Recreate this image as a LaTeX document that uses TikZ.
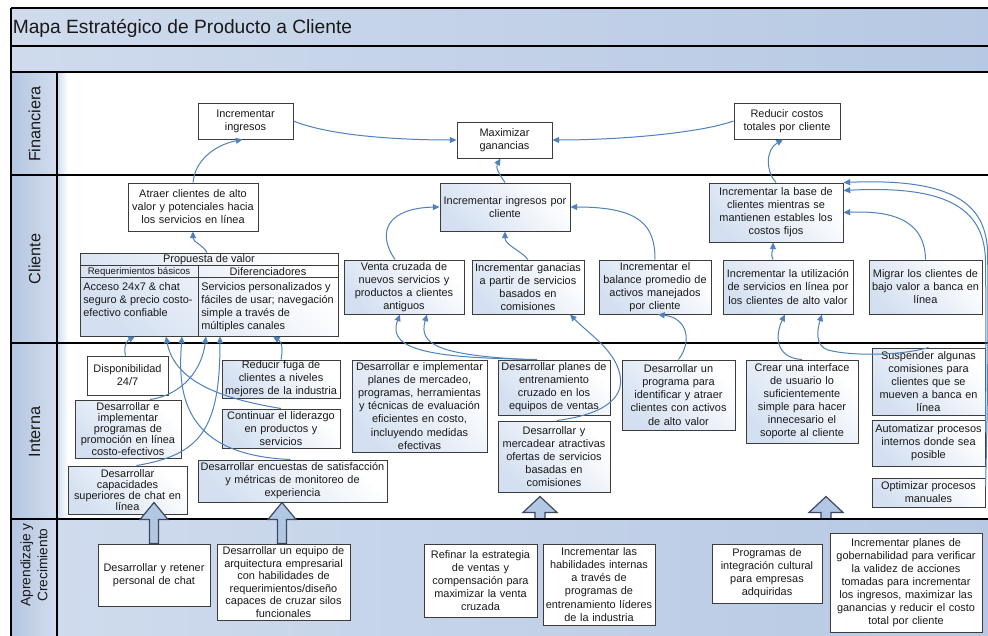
\documentclass[tikz,border=0pt]{standalone}
\usepackage{fontspec}
\setmainfont{Liberation Sans}
\usetikzlibrary{arrows.meta,calc}

\definecolor{bandlight}{RGB}{207,219,237}
\definecolor{banddark}{RGB}{182,200,227}
\definecolor{labellight}{RGB}{210,221,238}
\definecolor{labeldark}{RGB}{180,198,225}
\definecolor{boxtint}{RGB}{212,224,241}
\definecolor{boxline}{RGB}{60,60,60}
\definecolor{linkblue}{RGB}{79,129,189}
\definecolor{arrowfill}{RGB}{178,199,228}
\definecolor{arrowline}{RGB}{60,72,96}
\definecolor{inktext}{RGB}{25,25,25}

\tikzset{
  box/.style={draw=boxline, line width=0.75pt, fill=white, align=center,
    inner xsep=1pt, inner ysep=0.5pt, text=inktext,
    font=\fontsize{8.2}{9.8}\selectfont},
  gbox/.style={box, left color=boxtint, right color=white, shading angle=135},
  tight/.style={font=\fontsize{8.2}{8.3}\selectfont},
  arqfont/.style={font=\fontsize{8.2}{9.4}\selectfont},
  link/.style={draw=linkblue, line width=0.75pt, -{Triangle[length=5pt,width=4.5pt]}},
  laneline/.style={draw=black, line width=2pt},
  gridline/.style={draw=boxline, line width=0.75pt},
  lanelabel/.style={rotate=90, inner sep=0pt, text=inktext,
    font=\fontsize{12.2}{13}\selectfont},
  celltext/.style={inner sep=0pt, text=inktext, font=\fontsize{8.2}{9.8}\selectfont},
  blockarrow/.style={draw=arrowline, fill=arrowfill, line width=0.9pt},
  offx/.style={shift={(#1,0)}},
}

% box given by its corners in pixel units: [style]{name}{x1}{y1}{x2}{y2}{text}
\newcommand\stratbox[7][box]{%
  \pgfmathsetmacro\sbW{(#5-#3)*0.75}%
  \pgfmathsetmacro\sbH{(#6-#4)*0.75}%
  \pgfmathsetmacro\sbT{(#5-#3)*0.75-2}%
  \node[#1, minimum width=\sbW pt, minimum height=\sbH pt, text width=\sbT pt]
    (#2) at ({(#3+#5)/2},{(#4+#6)/2}) {#7};%
}

\begin{document}
\begin{tikzpicture}[x=0.75pt,y=-0.75pt]
\useasboundingbox (0,0) rectangle (988,635);
\clip (0,0) rectangle (988,635);
\fill[white] (0,0) rectangle (988,635);

% ---------- frame: title bands, lanes, label column ----------
\shade[left color=bandlight, right color=banddark] (11,8) rectangle (1000,72);
\shade[left color=boxtint, right color=white] (58,73) rectangle (68,518);
\shade[left color=bandlight, right color=banddark] (57,519) rectangle (1000,640);
\shade[left color=labeldark, right color=labellight] (11,72) rectangle (57,640);

\draw[laneline] (11,8) -- (1000,8);
\draw[laneline] (11,46) -- (1000,46);
\draw[laneline] (11,72) -- (1000,72);
\draw[laneline] (11,175) -- (1000,175);
\draw[laneline] (11,343) -- (1000,343);
\draw[laneline] (11,519) -- (1000,519);
\draw[laneline] (11,8) -- (11,640);
\draw[laneline] (57,72) -- (57,640);

\node[anchor=west, inner sep=0pt, text=inktext, font=\fontsize{14.4}{16}\selectfont]
  (title) at (12.5,28) {Mapa Estratégico de Producto a Cliente};

\node[lanelabel] (lblFin) at (34.5,124) {Financiera};
\node[lanelabel] (lblCli) at (34.5,259) {Cliente};
\node[lanelabel] (lblInt) at (34.5,432) {Interna};
\node[lanelabel, align=center, font=\fontsize{10.3}{12.8}\selectfont]
  (lblApr) at (34,565) {Aprendizaje y\\Crecimiento};

% ---------- Financiera ----------
\stratbox{ing}{198}{103}{293}{139}{Incrementar\\ingresos}
\stratbox{maxg}{457}{122}{552}{158}{Maximizar\\ganancias}
\stratbox{redc}{734}{103}{840}{139}{Reducir costos\\totales por cliente}

% ---------- Cliente ----------
\stratbox{atraer}{128}{183}{258}{231}{Atraer clientes de alto\\valor y potenciales hacia\\los servicios en línea}
\stratbox[gbox]{iipc}{440}{183}{570}{231}{Incrementar ingresos por\\cliente}
\stratbox[gbox]{ibase}{709}{183}{843}{242}{Incrementar la base de\\clientes mientras se\\mantienen estables los\\costos fijos}
\stratbox[gbox]{venta}{344}{260}{464}{314}{Venta cruzada de\\nuevos servicios y\\productos a clientes\\antiguos}
\stratbox[gbox]{ganac}{472}{260}{584}{314}{Incrementar ganacias\\a partir de servicios\\basados en\\comisiones}
\stratbox[gbox]{balance}{599}{260}{711}{314}{Incrementar el\\balance promedio de\\activos manejados\\por cliente}
\stratbox[gbox]{util}{723}{260}{853}{314}{Incrementar la utilización\\de servicios en línea por\\los clientes de alto valor}
\stratbox[gbox]{migrar}{869}{260}{982}{314}{Migrar los clientes de\\bajo valor a banca en\\línea}

% value proposition table
\stratbox[gbox]{pv}{80}{253}{338}{336}{}
\draw[gridline] (80,265) -- (338,265) (80,277) -- (338,277) (198,265) -- (198,336);
\node[celltext] (pvHead) at (209,259.5) {Propuesta de valor};
\node[celltext, font=\fontsize{7.2}{8}\selectfont] (pvReq) at (139,271.5) {Requerimientos básicos};
\node[celltext] (pvDif) at (268,271.5) {Diferenciadores};
\node[celltext, anchor=north west, align=left] (pvReqBody) at (83,282)
  {Acceso 24x7 \& chat\\seguro \& precio costo-\\efectivo confiable};
\node[celltext, anchor=north west, align=left] (pvDifBody) at (201,282)
  {Servicios personalizados y\\fáciles de usar; navegación\\simple a través de\\múltiples canales};

% ---------- Interna ----------
\stratbox{disp}{87}{356}{168}{395}{Disponibilidad\\24/7}
\stratbox[gbox,tight]{promo}{75}{400}{181}{458}{Desarrollar e\\implementar\\programas de\\promoción en línea\\costo-efectivos}
\stratbox[gbox,tight]{chat}{68}{466}{187}{514}{Desarrollar\\capacidades\\superiores de chat en\\línea}
\stratbox[gbox]{fuga}{222}{360}{340}{398}{Reducir fuga de\\clientes a niveles\\mejores de la industria}
\stratbox[gbox]{lider}{222}{409}{340}{448}{Continuar el liderazgo\\en productos y\\servicios}
\stratbox[gbox]{encuestas}{198}{460}{387}{502}{Desarrollar encuestas de satisfacción\\y métricas de monitoreo de\\experiencia}
\stratbox[gbox]{mercadeo}{352}{360}{487}{452}{Desarrollar e implementar\\planes de mercadeo,\\programas, herramientas\\y técnicas de evaluación\\eficientes en costo,\\incluyendo medidas\\efectivas}
\stratbox[gbox]{entren}{498}{360}{610}{415}{Desarrollar planes de\\entrenamiento\\cruzado en los\\equipos de ventas}
\stratbox[gbox]{ofertas}{498}{421}{610}{492}{Desarrollar y\\mercadear atractivas\\ofertas de servicios\\basadas en\\comisiones}
\stratbox[gbox]{programa}{622}{360}{735}{430}{Desarrollar un\\programa para\\identificar y atraer\\clientes con activos\\de alto valor}
\stratbox[gbox]{interfaz}{746}{360}{858}{443}{Crear una interface\\de usuario lo\\suficientemente\\simple para hacer\\innecesario el\\soporte al cliente}
\stratbox[gbox]{suspender}{872}{348}{985}{415}{Suspender algunas\\comisiones para\\clientes que se\\mueven a banca en\\línea}
\stratbox[gbox]{automat}{872}{420}{985}{466}{Automatizar procesos\\internos donde sea\\posible}
\stratbox[gbox]{optim}{872}{478}{985}{507}{Optimizar procesos\\manuales}

% ---------- Aprendizaje y Crecimiento ----------
\stratbox{retener}{98}{544}{210}{606}{Desarrollar y retener\\personal de chat}
\stratbox[box,arqfont]{arq}{217}{544}{350}{620}{Desarrollar un equipo de\\arquitectura empresarial\\con habilidades de\\requerimientos/diseño\\capaces de cruzar silos\\funcionales}
\stratbox{refinar}{424}{544}{537}{617}{Refinar la estrategia\\de ventas y\\compensación para\\maximizar la venta\\cruzada}
\stratbox{habil}{543}{544}{655}{625}{Incrementar las\\habilidades internas\\a través de\\programas de\\entrenamiento líderes\\de la industria}
\stratbox{cultural}{712}{544}{822}{603}{Programas de\\integración cultural\\para empresas\\adquiridas}
\stratbox{gobern}{830}{533}{982}{632}{Incrementar planes de\\gobernabilidad para verificar\\la validez de acciones\\tomadas para incrementar\\los ingresos, maximizar las\\ganancias y reducir el costo\\total por cliente}

% ---------- cause-effect links: Financiera ----------
\draw[link] (ing.east) .. controls (330,136) and (400,140) .. (maxg.west);
\draw[link] (redc.west) .. controls (700,133) and (620,140) .. (maxg.east);
\draw[link] (atraer.north) .. controls (195,160) and (215,145) .. ([offx=-3]ing.south);
\draw[link] (iipc.north) .. controls (500,175) and (495,168) .. ([offx=-4]maxg.south);
\draw[link] (ibase.north) .. controls (766,172) and (765,150) .. ([offx=-4]redc.south);

% ---------- links: Cliente ----------
\draw[link] ([offx=-2]pv.north) .. controls (203,245) and (193,242) .. (atraer.south);
\draw[link] ([offx=-9]venta.north) .. controls (375,230) and (390,208) .. (iipc.west);
\draw[link] (ganac.north) .. controls (520,250) and (505,245) .. (iipc.south);
\draw[link] (balance.north) .. controls (655,225) and (640,207) .. (iipc.east);
\draw[link] ([offx=-15]util.north) .. controls (770,254) and (773,250) .. ([offx=-3]ibase.south);
\draw[link] (migrar.north) .. controls (925,225) and (900,210) .. (ibase.east);

% ---------- links: Interna to Cliente ----------
\draw[link] ([offx=-2]disp.north) .. controls (123,345) and (128,340) .. ([offx=-74]pv.south);
\draw[link] (lider.north) .. controls (230,400) and (175,385) .. ([offx=-43]pv.south);
\draw[link] ([offx=-2]encuestas.north) .. controls (180,455) and (178,390) .. ([offx=-27]pv.south);
\draw[link] ([offx=22]promo.north) .. controls (182,395) and (202,370) .. ([offx=-3]pv.south);
\draw[link] ([offx=9]chat.north) .. controls (200,455) and (220,430) .. ([offx=11]pv.south);
\draw[link] (fuga.north) .. controls (283,350) and (282,342) .. ([offx=64]pv.south);

\draw[link] ([offx=-17]entren.north) .. controls (440,358) and (385,352) .. ([offx=-4]venta.south);
\draw[link] ([offx=-28]entren.north) .. controls (440,355) and (418,345) .. ([offx=23]venta.south);
\draw[link] ([offx=3]ofertas.north) .. controls (600,415) and (625,400) .. (620,375)
  .. controls (615,350) and (590,335) .. ([offx=42]ganac.south);
\draw[link] (programa.north) .. controls (692,342) and (688,318) .. ([offx=3]balance.south);
\draw[link] (interfaz.north) .. controls (775,358) and (775,335) .. ([offx=-3]util.south);
\draw[link] (suspender.north) .. controls (900,356) and (850,356) .. (828,350)
  .. controls (815,346) and (817,330) .. ([offx=34]util.south);
\draw[link] ([shift={(0,-11)}]automat.east) .. controls (986,360) and (986,300) .. (985.5,262)
  .. controls (985,210) and (950,185) .. ([shift={(0,8)}]ibase.north east);
\draw[link] ([shift={(0,-6)}]optim.east) .. controls (988,400) and (988.5,300) .. (987.5,250)
  .. controls (985,205) and (955,178) .. (ibase.north east);

% ---------- block arrows from learning lane ----------
\draw[blockarrow] ([offx=-4.5]retener.north) -- ++(0,-24) -- ++(-9.5,0) -- ++(14,-17)
  -- ++(14,17) -- ++(-9.5,0) -- ++(0,24) -- cycle;
\draw[blockarrow] ([offx=-6]arq.north) -- ++(0,-24) -- ++(-9.5,0) -- ++(14,-17)
  -- ++(14,17) -- ++(-9.5,0) -- ++(0,24) -- cycle;
\begin{scope}
  \clip (0,0) rectangle (988,517.8);
  \draw[blockarrow] ($(refinar.north east)!0.5!(habil.north west)$) ++(-5,-14)
    -- ++(0,-17) -- ++(-12,0) -- ++(17,-16) -- ++(17,16) -- ++(-12,0) -- ++(0,17) -- cycle;
  \draw[blockarrow] ($(cultural.north east)!0.5!(gobern.north west)$) ++(-5,-8.5)
    -- ++(0,-17) -- ++(-12,0) -- ++(17,-16) -- ++(17,16) -- ++(-12,0) -- ++(0,17) -- cycle;
\end{scope}
\end{tikzpicture}
\end{document}
